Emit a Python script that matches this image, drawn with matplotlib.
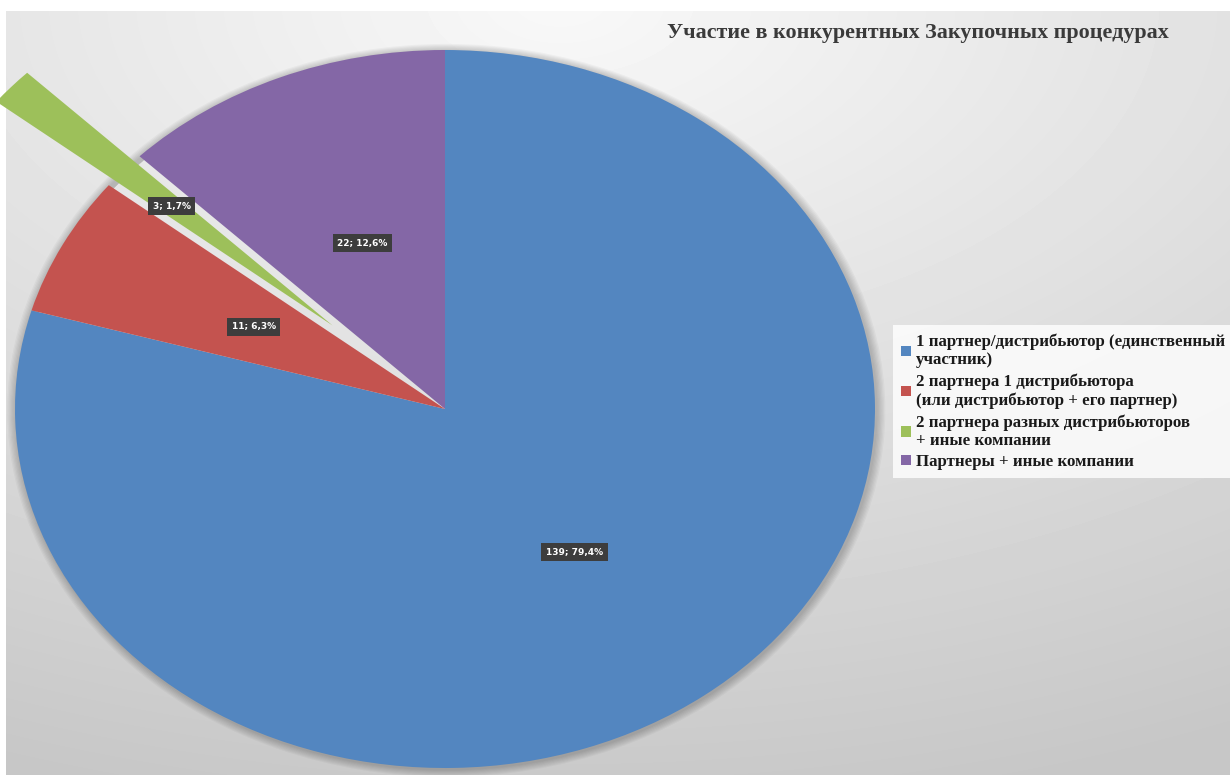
import numpy as np
import matplotlib.pyplot as plt
from matplotlib.patches import Patch, Wedge

# ── data ────────────────────────────────────────────────────────
categories = [
    "1 партнер/дистрибьютор (единственный\nучастник)",
    "2 партнера 1 дистрибьютора\n(или дистрибьютор + его партнер)",
    "2 партнера разных дистрибьюторов\n+ иные компании",
    "Партнеры + иные компании",
]
counts = [139, 11, 3, 22]
explode = [0, 0, 0.35, 0]
colours = ["#5386c0", "#c4534f", "#9dc05a", "#8467a6"]
title = "Участие в конкурентных Закупочных процедурах"

W, H = 1230, 775
fig = plt.figure(figsize=(W / 100, H / 100), dpi=100)
fig.patch.set_facecolor("white")

# ── background gradient (light top, grey edges) ─────────────────
bg = fig.add_axes([6 / W, 0, 1 - 6 / W, 1 - 11 / H], zorder=0)
yy, xx = np.mgrid[11:H, 6:W]
d = np.hypot((xx - 560) * 0.62, yy * 1.1)
shade = 0.975 - 0.195 * np.clip(d / 900, 0, 1)
bg.imshow(shade, cmap="gray", vmin=0, vmax=1, aspect="auto",
          extent=(6, W, H, 11), interpolation="bilinear")
bg.axis("off")

# ── pie (stretched into an ellipse) ─────────────────────────────
cx, cy, rx, ry = 445, 409, 430, 359
ax = fig.add_axes([(cx - rx) / W, (H - cy - ry) / H, 2 * rx / W, 2 * ry / H],
                  zorder=1)
total = sum(counts)

# soft shadow ring just outside the pie edge
for k in range(7):
    ax.add_patch(Wedge((0.003, -0.004), 1 + 0.003 * (k + 1), 0, 360,
                       width=0.003 * (k + 1) + 0.01, fc="#000000", ec="none",
                       alpha=0.03, clip_on=False, zorder=0))


def _fmt(pct):
    v = int(round(pct * total / 100))
    return f"{v}; {pct:.1f}%".replace(".", ",")


wedges, texts, autotexts = ax.pie(
    counts, explode=explode, colors=colours, startangle=90,
    counterclock=False, autopct=_fmt, pctdistance=0.5,
    wedgeprops=dict(linewidth=0, zorder=2), radius=1,
)
for w in wedges:
    w.set_clip_on(False)
for t in autotexts:
    t.set_color("white")
    t.set_fontsize(6.5)
    t.set_fontweight("bold")
    t.set_zorder(5)
    t.set_bbox(dict(boxstyle="square,pad=0.5", fc="#3d3d3d", ec="none"))
ax.set_xlim(-1, 1)
ax.set_ylim(-1, 1)
ax.set_aspect("auto")
ax.axis("off")

# ── title ───────────────────────────────────────────────────────
fig.text(918 / W, 1 - 33 / H, title, ha="center", va="center",
         fontsize=15.8, fontweight="bold", family="Liberation Serif",
         color="#3a3a3a")

# ── legend ──────────────────────────────────────────────────────
handles = [Patch(facecolor=c, edgecolor="none") for c in colours]
leg = fig.legend(handles, categories, loc="upper left",
                 bbox_to_anchor=(893 / W, 1 - 325 / H),
                 prop=dict(family="Liberation Serif", weight="bold", size=12.2),
                 handlelength=0.55, handleheight=0.55, handletextpad=0.3,
                 labelspacing=0.3, borderpad=0.5, frameon=True,
                 fancybox=False, borderaxespad=0)
leg.get_frame().set_facecolor((1, 1, 1, 0.08))
leg.get_frame().set_edgecolor("none")
for t in leg.get_texts():
    t.set_color("#1a1a1a")

fig.savefig("out.png", dpi=100, facecolor="white")
